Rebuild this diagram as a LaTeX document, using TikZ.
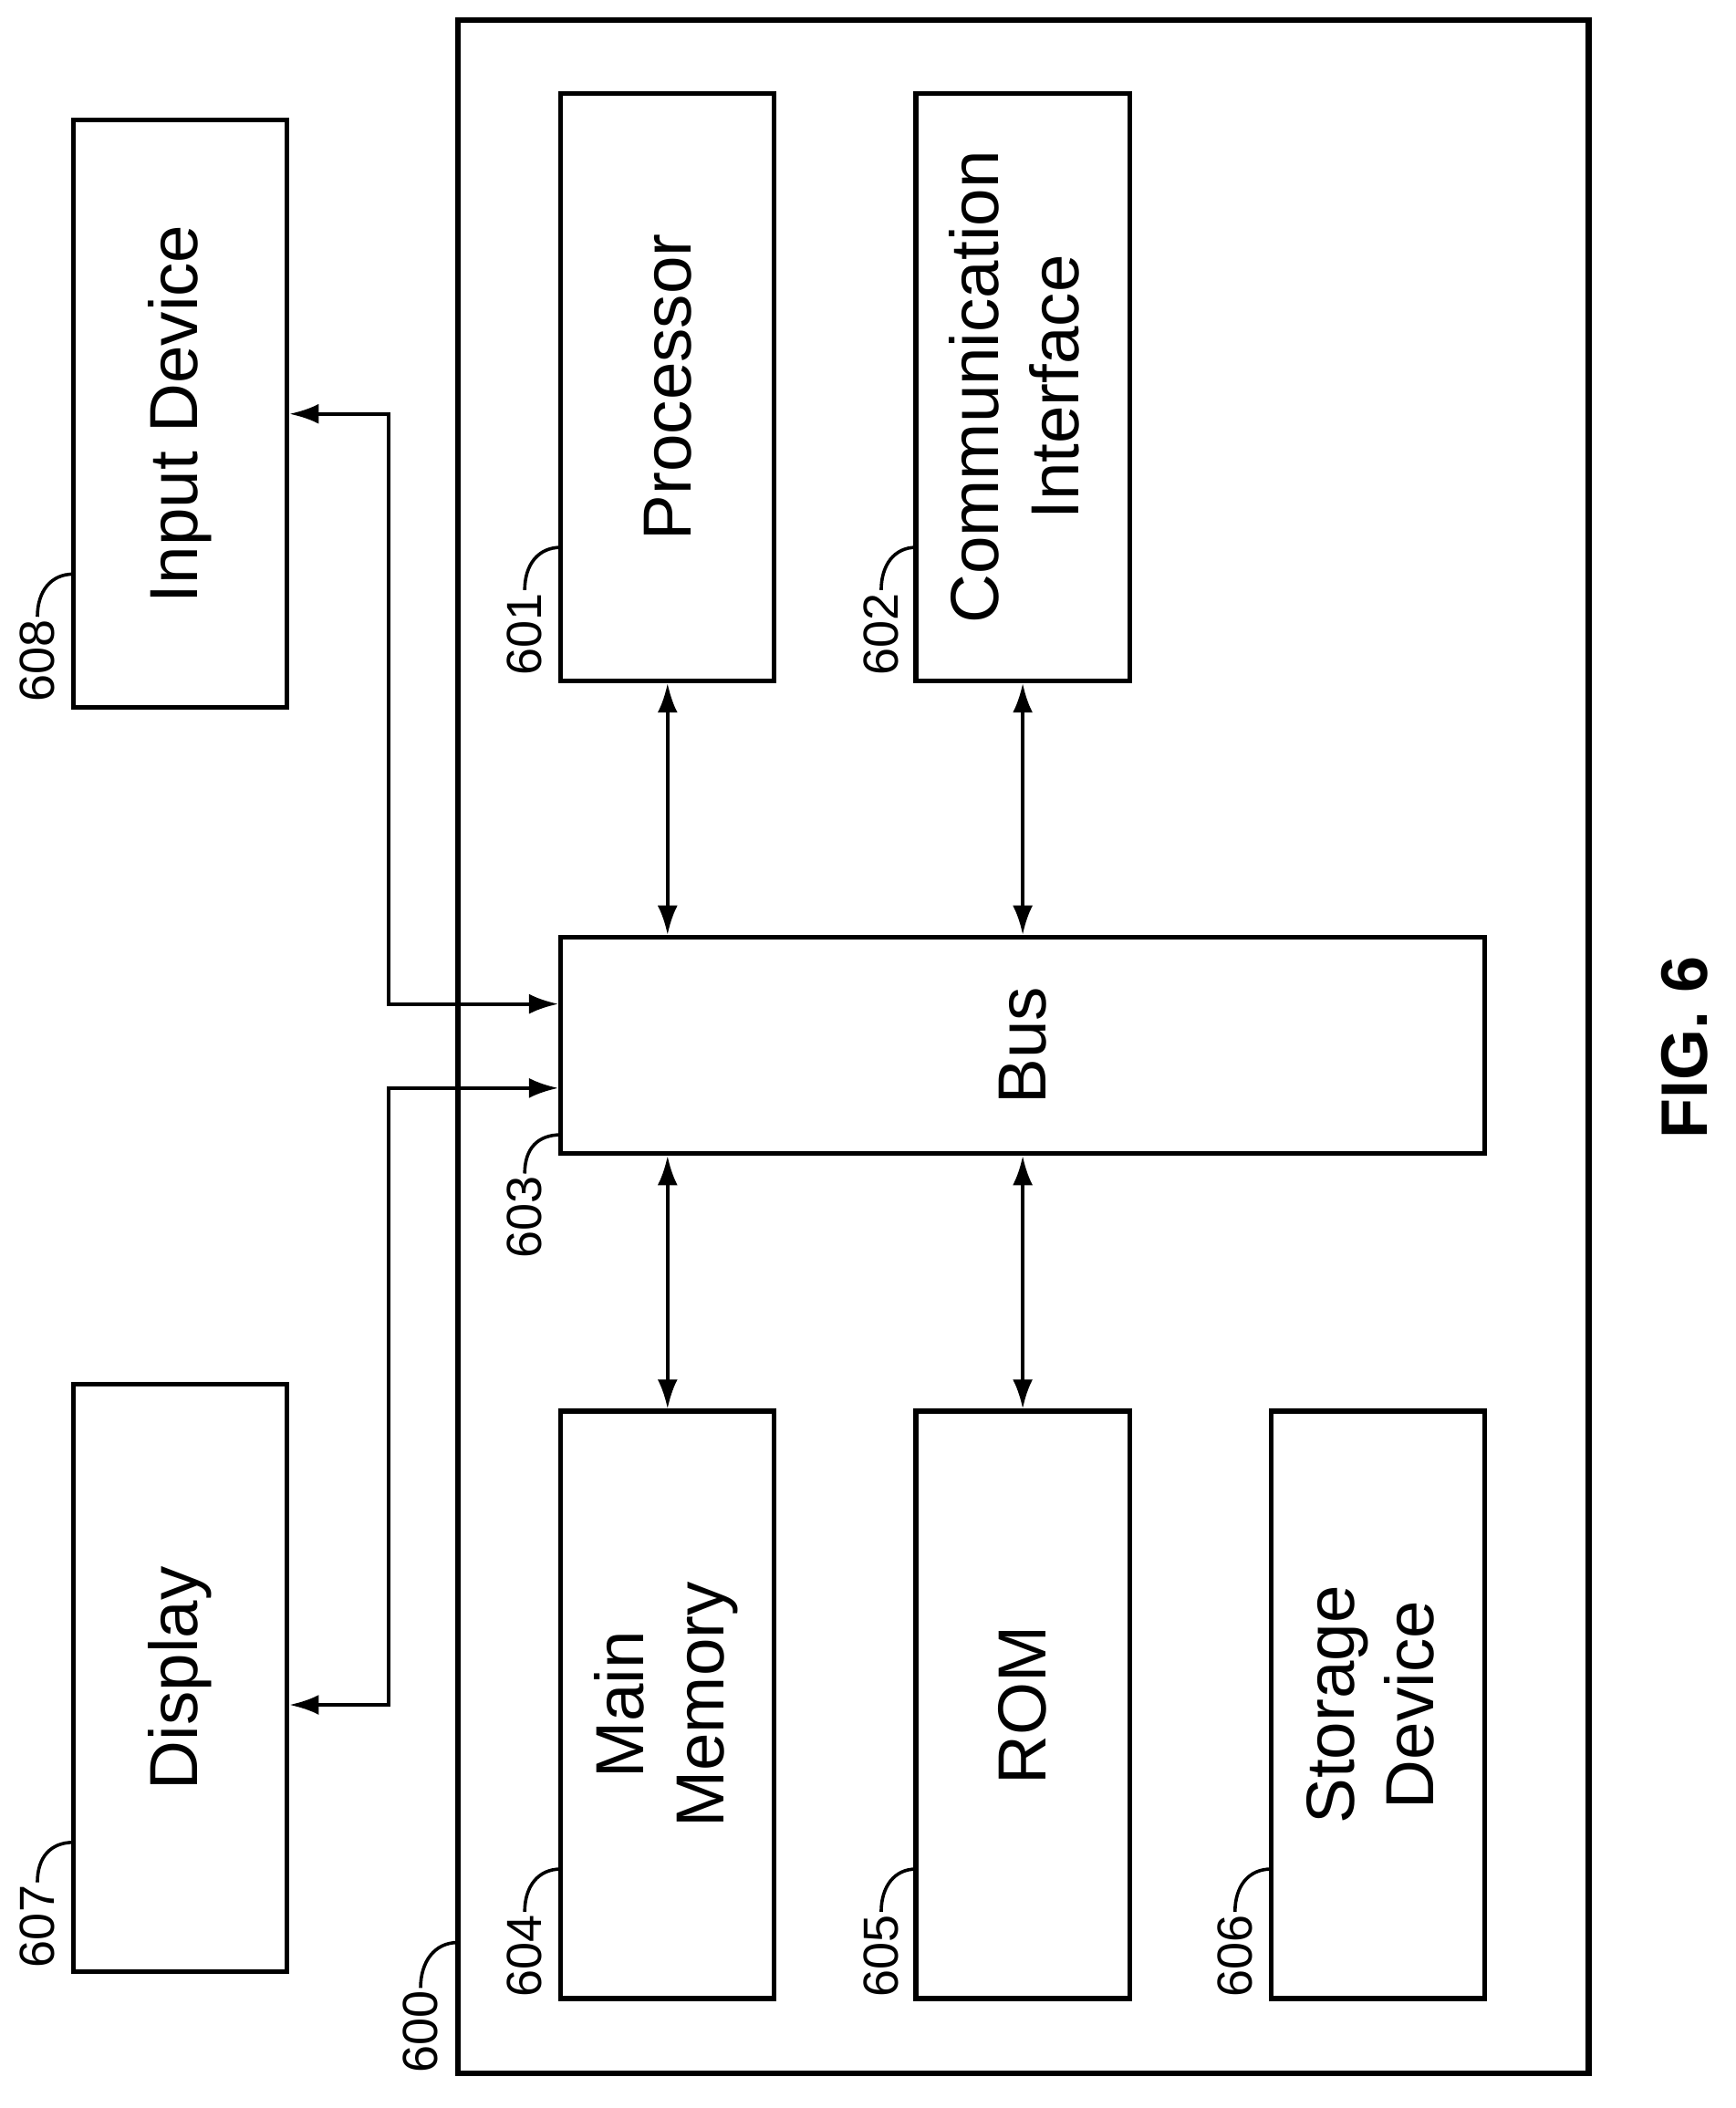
\documentclass[tikz,border=0pt]{standalone}
\usepackage{fontspec}
\setmainfont{Liberation Sans}
\usetikzlibrary{arrows.meta,calc}
\begin{document}
\begin{tikzpicture}[x=0.1mm,y=-0.1mm,
 box/.style={draw,line width=1pt,inner sep=0pt,font=\fontsize{14.5}{17}\selectfont,align=center},
 lab/.style={rotate=90,font=\fontsize{10.5}{12}\selectfont,inner sep=0pt},
 con/.style={line width=0.8pt,{Latex[length=2.2mm,width=1.5mm]}-{Latex[length=2.2mm,width=1.5mm]}},
 lead/.style={line width=0.7pt}]
\useasboundingbox (0,0) rectangle (1300,1579);
\draw[line width=1.3pt] (343,15) rectangle (1190,1553);
\node[box,minimum width=16mm,minimum height=44mm] (inp) at (135,310) {\rotatebox{90}{Input Device}};
\node[box,minimum width=16mm,minimum height=44mm] (disp) at (135,1257) {\rotatebox{90}{Display}};
\node[box,minimum width=16mm,minimum height=44mm] (proc) at (500,290) {\rotatebox{90}{Processor}};
\node[box,minimum width=16mm,minimum height=44mm] (comm) at (766,290) {\rotatebox{90}{\begin{tabular}{c}Communication\\Interface\end{tabular}}};
\node[box,minimum width=69.2mm,minimum height=16.2mm] (bus) at (766,783) {\rotatebox{90}{Bus}};
\node[box,minimum width=16mm,minimum height=44mm] (mem) at (500,1277) {\rotatebox{90}{\begin{tabular}{c}Main\\Memory\end{tabular}}};
\node[box,minimum width=16mm,minimum height=44mm] (rom) at (766,1277) {\rotatebox{90}{ROM}};
\node[box,minimum width=16mm,minimum height=44mm] (stor) at (1032,1277) {\rotatebox{90}{\begin{tabular}{c}Storage\\Device\end{tabular}}};
\node[rotate=90,font=\bfseries\fontsize{14}{16}\selectfont] (fig) at (1262,785) {FIG. 6};
\draw[con] (proc.south) -- (bus.north -| proc.south);
\draw[con] (comm.south) -- (bus.north -| comm.south);
\draw[con] (mem.north) -- (bus.south -| mem.north);
\draw[con] (rom.north) -- (bus.south -| rom.north);
\coordinate (b1) at (bus.west |- 0,752);
\coordinate (b2) at (bus.west |- 0,815);
\draw[con] (inp.east) -- (291,310) -- (291,752) -- (b1);
\draw[con] (disp.east |- 0,1277) -- (291,1277) -- (291,815) -- (b2);
% labels
\foreach \n/\x/\y/\bx/\by in {608/28/495/55/430, 607/28/1443/55/1380, 601/393/475/420/410, 602/660/475/686/410, 603/393/912/420/850, 604/393/1465/420/1400, 605/660/1465/686/1400, 606/925/1465/952/1400, 600/315/1522/343/1455}{
 \node[lab,anchor=center] (l\n) at (\x,\y) {\n};
 \draw[lead] (\x,\y-33) .. controls (\x,\y-52) and (\x+10,\by) .. (\bx,\by);
}
\end{tikzpicture}
\end{document}
